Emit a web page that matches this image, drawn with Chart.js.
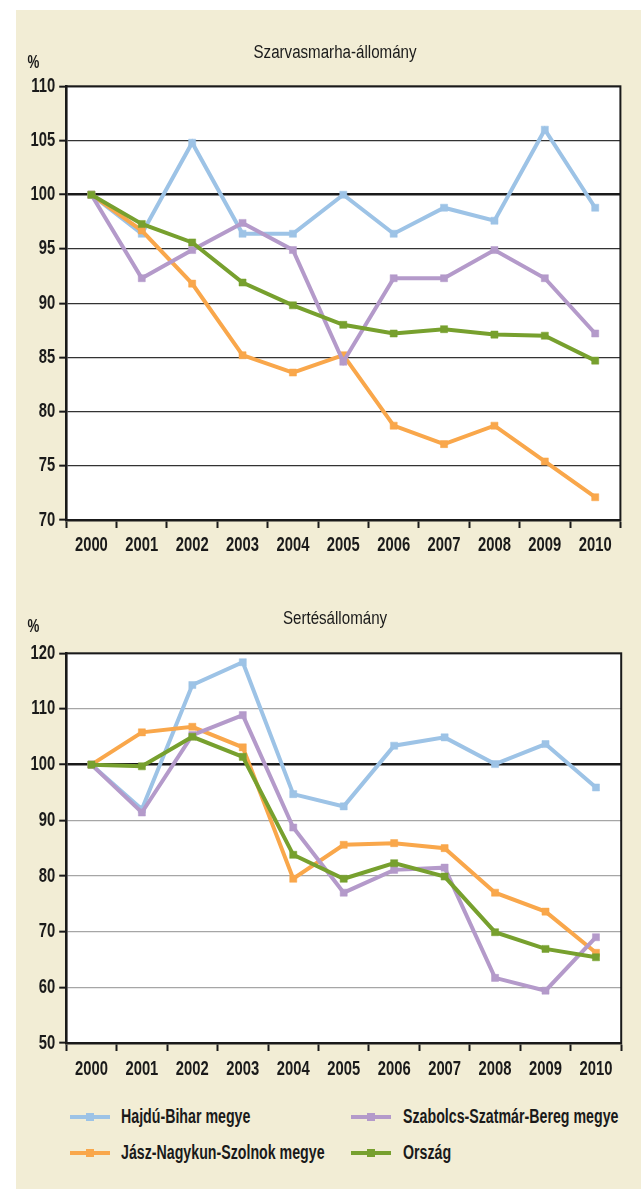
<!DOCTYPE html>
<html lang="hu">
<head>
<meta charset="utf-8">
<title>Szarvasmarha- és sertésállomány</title>
<script src="https://cdn.jsdelivr.net/npm/chart.js@4.4.1/dist/chart.umd.min.js"></script>
<style>
  html, body { margin: 0; padding: 0; background: #ffffff; overflow: hidden; }
  body { position: relative; width: 641px; height: 1189px; }
  .panel { position: absolute; left: 16px; top: 10px; right: 0; bottom: 0; background: #f2edd5; }
  canvas { position: absolute; left: 0; }
  #cattleChart { top: 10px; }
  #pigChart { top: 575px; }
  #legend {
    position: absolute; left: 69.5px; top: 1098.7px;
    display: grid; grid-template-rows: 36px 36px; grid-template-columns: 281.5px auto;
    grid-auto-flow: column;
    font-family: "Liberation Sans", Arial, sans-serif;
    font-weight: bold; font-size: 20px; color: #1a1a1a;
  }
  .item { display: flex; align-items: center; white-space: nowrap; }
  .swatch { position: relative; flex: none; width: 40px; height: 8px; margin-right: 11.5px; }
  .swatch .ln { position: absolute; left: 0; right: 0; top: 2px; height: 4px; }
  .swatch .pt { position: absolute; left: 16px; top: 0; width: 8px; height: 8px; }
  .lbl { display: inline-block; transform: scaleX(0.71); transform-origin: left center; }
</style>
</head>
<body>
<div class="panel"></div>
<canvas id="cattleChart" width="641" height="550"></canvas>
<canvas id="pigChart" width="641" height="508"></canvas>
<div id="legend"></div>
<script>
// Évek
const years = ['2000', '2001', '2002', '2003', '2004', '2005', '2006', '2007', '2008', '2009', '2010'];

// Szarvasmarha-állomány, 2000 = 100%
const hajduCattle    = [100, 96.4, 104.8, 96.4, 96.4, 100, 96.4, 98.8, 97.6, 106.0, 98.8];
const jaszCattle     = [100, 96.7, 91.8, 85.2, 83.6, 85.2, 78.7, 77.0, 78.7, 75.4, 72.1];
const szabolcsCattle = [100, 92.3, 94.9, 97.4, 94.9, 84.6, 92.3, 92.3, 94.9, 92.3, 87.2];
const orszagCattle   = [100, 97.3, 95.6, 91.9, 89.8, 88.0, 87.2, 87.6, 87.1, 87.0, 84.7];

// Sertésállomány, 2000 = 100%
const hajduPig    = [100, 92.0, 114.3, 118.4, 94.7, 92.5, 103.4, 104.9, 100.1, 103.7, 95.9];
const jaszPig     = [100, 105.8, 106.8, 103.1, 79.5, 85.6, 85.9, 85.0, 77.0, 73.6, 66.2];
const szabolcsPig = [100, 91.4, 105.3, 108.9, 88.7, 77.0, 81.1, 81.5, 61.7, 59.4, 69.0];
const orszagPig   = [100, 99.7, 105.0, 101.4, 83.8, 79.5, 82.3, 79.9, 69.9, 66.9, 65.4];

// Tengelyfeliratok
const cattleTicks = [70, 75, 80, 85, 90, 95, 100, 105, 110];
const pigTicks = [50, 60, 70, 80, 90, 100, 110, 120];

// Sorozatnevek és színek
const seriesNames = ['Hajdú-Bihar megye', 'Jász-Nagykun-Szolnok megye', 'Szabolcs-Szatmár-Bereg megye', 'Ország'];
const seriesColors = ['#9dc3e6', '#f9a74b', '#b49aca', '#77a02e'];

const FONT = '"Liberation Sans", Arial, sans-serif';
const INK = '#1a1a1a';

// Condensed text: every label drawn without an explicit width is squeezed horizontally
function condenseText(ctx, factor) {
  const fill = ctx.fillText.bind(ctx);
  ctx.fillText = function (text, x, y, maxWidth) {
    if (maxWidth === undefined) {
      maxWidth = ctx.measureText(text).width * factor;
    }
    return fill(text, x, y, maxWidth);
  };
}

// White plot background and black frame around the plot area
const plotFrame = {
  id: 'plotFrame',
  beforeDraw(chart) {
    const a = chart.chartArea, ctx = chart.ctx;
    ctx.save();
    ctx.fillStyle = '#ffffff';
    ctx.fillRect(a.left, a.top, a.right - a.left, a.bottom - a.top);
    ctx.restore();
  },
  beforeDatasetsDraw(chart) {
    const a = chart.chartArea, ctx = chart.ctx;
    ctx.save();
    ctx.strokeStyle = INK;
    ctx.lineWidth = 2;
    ctx.strokeRect(a.left, a.top, a.right - a.left, a.bottom - a.top);
    ctx.restore();
  }
};

// Chart heading and the unit sign above the value axis
const headings = {
  id: 'headings',
  afterDraw(chart, args, opts) {
    const ctx = chart.ctx;
    const top = chart.chartArea.top;
    ctx.save();
    ctx.fillStyle = INK;
    ctx.textAlign = 'center';
    ctx.textBaseline = 'middle';
    ctx.font = '18px ' + FONT;
    const tw = ctx.measureText(opts.title).width * 0.84;
    ctx.fillText(opts.title, opts.titleX, top - opts.titleDy, tw);
    ctx.font = 'bold 18px ' + FONT;
    const uw = ctx.measureText(opts.unit).width * 0.74;
    ctx.fillText(opts.unit, opts.unitX, top - opts.unitDy, uw);
    ctx.restore();
  }
};

function makeDatasets(values) {
  return values.map((v, i) => ({
    label: seriesNames[i],
    data: v,
    borderColor: seriesColors[i],
    backgroundColor: seriesColors[i],
    pointBackgroundColor: seriesColors[i],
    pointBorderColor: seriesColors[i],
    borderWidth: 4,
    pointStyle: 'rect',
    pointRadius: 5,
    pointBorderWidth: 0.5,
    tension: 0,
    order: values.length - i
  }));
}

function makeChart(id, title, values, ticks, gridColor, pad, labelPad, titleDy, unitDy) {
  const canvas = document.getElementById(id);
  const ctx = canvas.getContext('2d');
  condenseText(ctx, 0.74);
  const yMin = ticks[0], yMax = ticks[ticks.length - 1];
  return new Chart(ctx, {
    type: 'line',
    data: { labels: years, datasets: makeDatasets(values) },
    plugins: [plotFrame, headings],
    options: {
      responsive: false,
      devicePixelRatio: 1,
      animation: false,
      layout: { padding: pad },
      plugins: {
        legend: { display: false },
        tooltip: { enabled: false },
        title: { display: false },
        headings: { title: title, titleX: 335, titleDy: titleDy, unit: '%', unitX: 33.3, unitDy: unitDy }
      },
      scales: {
        x: {
          offset: true,
          grid: {
            display: true, drawOnChartArea: false, drawTicks: true, offset: true,
            tickLength: 8, tickColor: INK, tickWidth: 2, color: INK
          },
          border: { display: true, color: INK, width: 2.5 },
          ticks: { color: INK, padding: labelPad, maxRotation: 0, autoSkip: false, font: { family: FONT, size: 20, weight: 'bold' } },
          afterFit(s) { s.height = 40; }
        },
        y: {
          min: yMin, max: yMax,
          afterBuildTicks(s) { s.ticks = ticks.map(v => ({ value: v })); },
          grid: {
            color: c => c.tick && c.tick.value === 100 ? INK : gridColor,
            lineWidth: c => c.tick && c.tick.value === 100 ? 2.5 : 1.3,
            tickLength: 7, tickColor: INK, tickWidth: 2
          },
          border: { display: true, color: INK, width: 2.5 },
          ticks: { color: INK, padding: 4, font: { family: FONT, size: 20, weight: 'bold' } },
          afterFit(s) { s.width = 66.2; }
        }
      }
    }
  });
}

makeChart('cattleChart', 'Szarvasmarha-állomány',
  [hajduCattle, jaszCattle, szabolcsCattle, orszagCattle],
  cattleTicks, '#333333', { left: 0, right: 20.6, top: 76.3, bottom: 0 }, 5, 33, 23);

const pigChart = makeChart('pigChart', 'Sertésállomány',
  [hajduPig, jaszPig, szabolcsPig, orszagPig],
  pigTicks, '#a6a6a6', { left: 0, right: 19.8, top: 78.3, bottom: 0 }, 6, 34, 26.6);

// Shared legend, built from the datasets (column-wise)
const legendEl = document.getElementById('legend');
pigChart.data.datasets.forEach(ds => {
  const item = document.createElement('div');
  item.className = 'item';
  const sw = document.createElement('span');
  sw.className = 'swatch';
  const ln = document.createElement('span');
  ln.className = 'ln';
  ln.style.background = ds.borderColor;
  const pt = document.createElement('span');
  pt.className = 'pt';
  pt.style.background = ds.borderColor;
  sw.appendChild(ln);
  sw.appendChild(pt);
  const lbl = document.createElement('span');
  lbl.className = 'lbl';
  lbl.textContent = ds.label;
  item.appendChild(sw);
  item.appendChild(lbl);
  legendEl.appendChild(item);
});
</script>
</body>
</html>
